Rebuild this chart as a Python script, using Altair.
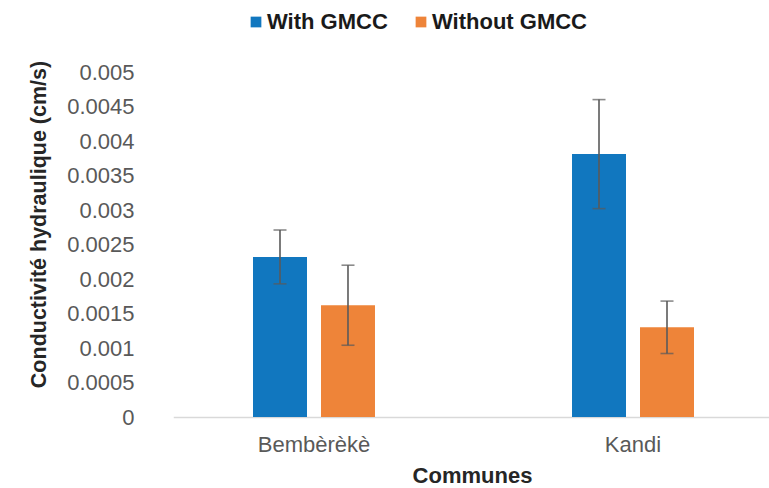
import altair as alt
import pandas as pd

# Hydraulic conductivity by commune, with / without GMCC
communes = ["Bembèrèkè", "Kandi"]
series = ["With GMCC", "Without GMCC"]
with_gmcc = [0.00232, 0.00381]
without_gmcc = [0.00162, 0.00130]
with_err = [0.00039, 0.00079]
without_err = [0.00058, 0.00038]
y_ticks = [0, 0.0005, 0.001, 0.0015, 0.002, 0.0025, 0.003, 0.0035, 0.004, 0.0045, 0.005]
colors = ["#1177BF", "#EE8439"]

rows = []
for i, c in enumerate(communes):
    rows.append({"commune": c, "series": series[0], "value": with_gmcc[i], "err": with_err[i]})
    rows.append({"commune": c, "series": series[1], "value": without_gmcc[i], "err": without_err[i]})
df = pd.DataFrame(rows)

FONT = "Liberation Sans"

x = alt.X(
    "commune:N",
    sort=communes,
    scale=alt.Scale(range=[19.25, 619.75], paddingInner=0.6176, paddingOuter=0.25),
    axis=alt.Axis(
        title="Communes",
        labelAngle=0,
        labelFont=FONT,
        labelFontSize=22,
        labelColor="#595959",
        labelPadding=17,
        ticks=False,
        domainColor="#D9D9D9",
        domainWidth=1.5,
        titleFont=FONT,
        titleFontSize=22,
        titleFontWeight="bold",
        titleColor="#262626",
        titleX=318,
        titleY=65,
        titleBaseline="alphabetic",
    ),
)
x_off = alt.XOffset(
    "series:N",
    sort=series,
    scale=alt.Scale(paddingInner=0.2059, paddingOuter=0),
)
y_scale = alt.Scale(domain=[0, 0.005], nice=False)
y_axis = alt.Axis(
    title="Conductivité hydraulique (cm/s)",
    values=y_ticks,
    format="~f",
    labelOverlap=False,
    grid=False,
    domain=False,
    ticks=False,
    labelFont=FONT,
    labelFontSize=22,
    labelColor="#595959",
    labelPadding=20,
    titleFont=FONT,
    titleFontSize=21.5,
    titleFontWeight="bold",
    titleColor="#262626",
    titleX=-115,
    titleY=152,
    titleBaseline="middle",
)

bars = alt.Chart(df).mark_bar().encode(
    x=x,
    xOffset=x_off,
    y=alt.Y("value:Q", scale=y_scale, axis=y_axis),
    color=alt.Color(
        "series:N",
        sort=series,
        scale=alt.Scale(domain=series, range=colors),
        legend=alt.Legend(
            title=None,
            orient="none",
            direction="horizontal",
            legendX=91,
            legendY=-61,
            symbolType="square",
            symbolSize=115,
            symbolStrokeWidth=0,
            labelFont=FONT,
            labelFontSize=22,
            labelFontWeight="bold",
            labelColor="#1a1a1a",
            labelOffset=0,
            columnPadding=22,
        ),
    ),
)

err_base = alt.Chart(df).transform_calculate(
    lo="datum.value - datum.err", hi="datum.value + datum.err"
)

err_rule = err_base.mark_rule(color="#5a5a5a", strokeWidth=1.6).encode(
    x=x, xOffset=x_off, y=alt.Y("lo:Q", scale=y_scale, axis=y_axis), y2="hi:Q"
)
cap_lo = err_base.mark_tick(color="#5a5a5a", thickness=1.6, size=13).encode(
    x=x, xOffset=x_off, y=alt.Y("lo:Q", scale=y_scale, axis=y_axis)
)
cap_hi = err_base.mark_tick(color="#5a5a5a", thickness=1.6, size=13).encode(
    x=x, xOffset=x_off, y=alt.Y("hi:Q", scale=y_scale, axis=y_axis)
)

chart = (
    alt.layer(bars, err_rule, cap_lo, cap_hi)
    .properties(
        width=615,
        height=345,
        autosize=alt.AutoSizeParams(type="none"),
        padding={"left": 154, "top": 72, "right": 0, "bottom": 71},
        background="white",
    )
    .configure_axisY(labelOverlap=False)
    .configure_view(stroke=None)
)

chart.save("out.html", embed_options={"renderer": "svg", "actions": False})
